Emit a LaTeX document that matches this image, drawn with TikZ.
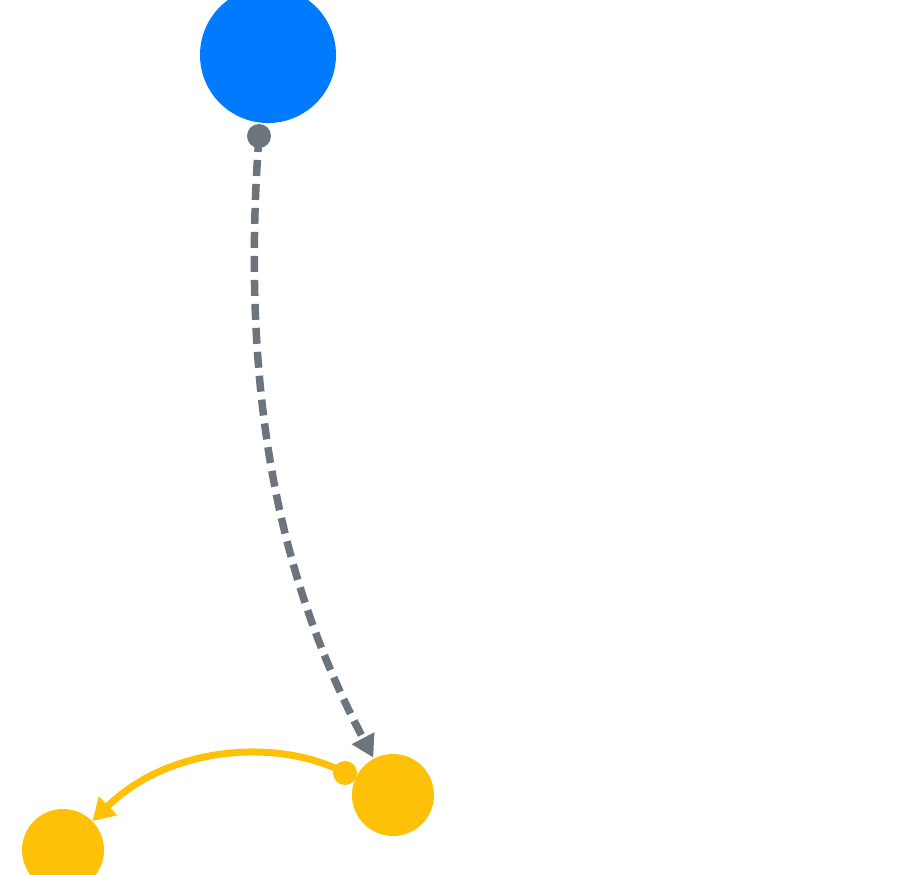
\documentclass[tikz,border=0pt]{standalone}
\usepackage[]{color}
\usepackage{tikz}
\usetikzlibrary{arrows.meta}
\definecolor{primary}{HTML}{007BFF}
\definecolor{secondary}{HTML}{6C757D}
\definecolor{warning}{HTML}{FFC107}
\begin{document}
\begin{tikzpicture}[x = 1pt, y = -1pt,
  blob/.style = {circle, inner sep = 0pt, minimum size = #1}]
\useasboundingbox (0, 0) rectangle (918, 875);
\node (parent) [blob = 136pt, fill = primary] at (268, 55) {};
\node (child) [blob = 82pt, fill = warning] at (393, 795) {};
\node (leaf) [blob = 82pt, fill = warning] at (63, 850) {};
\node (parentdot) [blob = 24pt, fill = secondary] at (259, 136) {};
\node (childdot) [blob = 24pt, fill = warning] at (345, 773) {};
\draw [secondary, line width = 7.5pt, dash pattern = on 16pt off 8pt,
  -{Triangle[length = 22pt, width = 24pt]}, shorten > = 1pt]
  (parentdot.center) .. controls (238, 420) and (290, 600) .. (child);
\draw [warning, line width = 7pt, -{Triangle[length = 22pt, width = 25pt]}]
  (childdot.center) .. controls (280, 738) and (170, 745) .. (leaf);
%\draw[very thin, gray] (0, 0) grid[step = 100] (918, 875);
\end{tikzpicture}
\end{document}
